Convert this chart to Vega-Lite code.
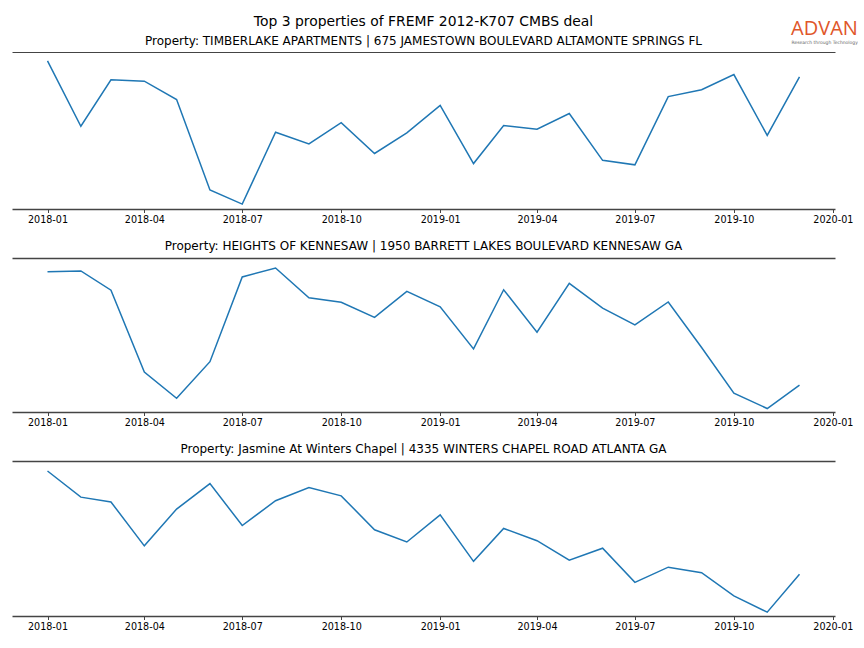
{
  "$schema": "https://vega.github.io/schema/vega-lite/v6.json",
  "padding": {"left": 12, "top": 15, "right": 0, "bottom": 0},
  "background": "white",
  "title": {
    "text": "ADVAN",
    "subtitle": "Research through Technology",
    "anchor": "end",
    "orient": "top",
    "offset": -29,
    "dx": 5,
    "font": "Open Sans",
    "fontSize": 20,
    "fontWeight": "normal",
    "color": "#e0562a",
    "subtitleFont": "DejaVu Sans",
    "subtitleFontSize": 4.5,
    "subtitleColor": "#666666",
    "subtitlePadding": 1
  },
  "config": {
    "view": {"stroke": null},
    "font": "DejaVu Sans",
    "axis": {
      "grid": false,
      "domainColor": "#444444",
      "domainWidth": 1.5,
      "tickColor": "#444444",
      "tickSize": 3.5,
      "tickWidth": 1,
      "labelFont": "DejaVu Sans",
      "labelFontSize": 9.6,
      "labelColor": "#000000",
      "labelPadding": 2,
      "title": null
    },
    "title": {
      "font": "DejaVu Sans",
      "fontSize": 12,
      "fontWeight": "normal",
      "color": "#000000",
      "anchor": "middle",
      "offset": 5
    },
    "concat": {"spacing": 15}
  },
  "data": {
    "values": [
      {"panel": 1, "date": "2018-01-01", "value": 151.0},
      {"panel": 1, "date": "2018-02-01", "value": 84.3},
      {"panel": 1, "date": "2018-03-01", "value": 131.6},
      {"panel": 1, "date": "2018-04-01", "value": 130.3},
      {"panel": 1, "date": "2018-05-01", "value": 111.6},
      {"panel": 1, "date": "2018-06-01", "value": 19.3},
      {"panel": 1, "date": "2018-07-01", "value": 5.0},
      {"panel": 1, "date": "2018-08-01", "value": 78.3},
      {"panel": 1, "date": "2018-09-01", "value": 66.3},
      {"panel": 1, "date": "2018-10-01", "value": 88.0},
      {"panel": 1, "date": "2018-11-01", "value": 56.6},
      {"panel": 1, "date": "2018-12-01", "value": 77.6},
      {"panel": 1, "date": "2019-01-01", "value": 105.6},
      {"panel": 1, "date": "2019-02-01", "value": 46.3},
      {"panel": 1, "date": "2019-03-01", "value": 85.0},
      {"panel": 1, "date": "2019-04-01", "value": 81.3},
      {"panel": 1, "date": "2019-05-01", "value": 97.3},
      {"panel": 1, "date": "2019-06-01", "value": 49.6},
      {"panel": 1, "date": "2019-07-01", "value": 45.0},
      {"panel": 1, "date": "2019-08-01", "value": 114.6},
      {"panel": 1, "date": "2019-09-01", "value": 121.6},
      {"panel": 1, "date": "2019-10-01", "value": 137.0},
      {"panel": 1, "date": "2019-11-01", "value": 75.0},
      {"panel": 1, "date": "2019-12-01", "value": 134.6},
      {"panel": 2, "date": "2018-01-01", "value": 145.6},
      {"panel": 2, "date": "2018-02-01", "value": 146.6},
      {"panel": 2, "date": "2018-03-01", "value": 126.6},
      {"panel": 2, "date": "2018-04-01", "value": 41.6},
      {"panel": 2, "date": "2018-05-01", "value": 14.3},
      {"panel": 2, "date": "2018-06-01", "value": 52.3},
      {"panel": 2, "date": "2018-07-01", "value": 140.3},
      {"panel": 2, "date": "2018-08-01", "value": 149.6},
      {"panel": 2, "date": "2018-09-01", "value": 118.6},
      {"panel": 2, "date": "2018-10-01", "value": 114.0},
      {"panel": 2, "date": "2018-11-01", "value": 98.3},
      {"panel": 2, "date": "2018-12-01", "value": 125.3},
      {"panel": 2, "date": "2019-01-01", "value": 109.3},
      {"panel": 2, "date": "2019-02-01", "value": 65.6},
      {"panel": 2, "date": "2019-03-01", "value": 127.0},
      {"panel": 2, "date": "2019-04-01", "value": 83.0},
      {"panel": 2, "date": "2019-05-01", "value": 133.6},
      {"panel": 2, "date": "2019-06-01", "value": 108.0},
      {"panel": 2, "date": "2019-07-01", "value": 90.6},
      {"panel": 2, "date": "2019-08-01", "value": 114.3},
      {"panel": 2, "date": "2019-09-01", "value": 67.0},
      {"panel": 2, "date": "2019-10-01", "value": 19.6},
      {"panel": 2, "date": "2019-11-01", "value": 3.6},
      {"panel": 2, "date": "2019-12-01", "value": 28.0},
      {"panel": 3, "date": "2018-01-01", "value": 149.7},
      {"panel": 3, "date": "2018-02-01", "value": 122.7},
      {"panel": 3, "date": "2018-03-01", "value": 117.7},
      {"panel": 3, "date": "2018-04-01", "value": 72.4},
      {"panel": 3, "date": "2018-05-01", "value": 110.4},
      {"panel": 3, "date": "2018-06-01", "value": 136.7},
      {"panel": 3, "date": "2018-07-01", "value": 93.4},
      {"panel": 3, "date": "2018-08-01", "value": 119.0},
      {"panel": 3, "date": "2018-09-01", "value": 132.7},
      {"panel": 3, "date": "2018-10-01", "value": 124.0},
      {"panel": 3, "date": "2018-11-01", "value": 89.0},
      {"panel": 3, "date": "2018-12-01", "value": 76.4},
      {"panel": 3, "date": "2019-01-01", "value": 104.4},
      {"panel": 3, "date": "2019-02-01", "value": 56.4},
      {"panel": 3, "date": "2019-03-01", "value": 90.4},
      {"panel": 3, "date": "2019-04-01", "value": 77.7},
      {"panel": 3, "date": "2019-05-01", "value": 57.7},
      {"panel": 3, "date": "2019-06-01", "value": 70.0},
      {"panel": 3, "date": "2019-07-01", "value": 34.7},
      {"panel": 3, "date": "2019-08-01", "value": 50.4},
      {"panel": 3, "date": "2019-09-01", "value": 44.7},
      {"panel": 3, "date": "2019-10-01", "value": 20.7},
      {"panel": 3, "date": "2019-11-01", "value": 4.0},
      {"panel": 3, "date": "2019-12-01", "value": 43.0}
    ]
  },
  "vconcat": [
    {
      "width": 823,
      "height": 157,
      "title": {
        "text": "Top 3 properties of FREMF 2012-K707 CMBS deal",
        "subtitle": "Property: TIMBERLAKE APARTMENTS | 675 JAMESTOWN BOULEVARD ALTAMONTE SPRINGS FL",
        "fontSize": 13.9,
        "subtitleFont": "DejaVu Sans",
        "subtitleFontSize": 12,
        "subtitleColor": "#000000",
        "subtitlePadding": 7
      },
      "transform": [{"filter": "datum.panel == 1"}],
      "layer": [
        {
          "mark": {"type": "line", "color": "#1f77b4", "strokeWidth": 1.5},
          "encoding": {
            "x": {"field": "date", "type": "temporal",
              "scale": {"type": "utc", "domain": [{"year": 2017, "month": 11, "date": 29, "utc": true}, {"year": 2020, "month": 1, "date": 3, "utc": true}]},
              "axis": {"orient": "bottom", "labelExpr": "utcFormat(datum.value, '%Y-%m')",
                "values": [{"year": 2018, "month": 1, "date": 1, "utc": true}, {"year": 2018, "month": 4, "date": 1, "utc": true}, {"year": 2018, "month": 7, "date": 1, "utc": true}, {"year": 2018, "month": 10, "date": 1, "utc": true}, {"year": 2019, "month": 1, "date": 1, "utc": true}, {"year": 2019, "month": 4, "date": 1, "utc": true}, {"year": 2019, "month": 7, "date": 1, "utc": true}, {"year": 2019, "month": 10, "date": 1, "utc": true}, {"year": 2020, "month": 1, "date": 1, "utc": true}]}},
            "y": {"field": "value", "type": "quantitative", "scale": {"domain": [0, 157]}, "axis": null}
          }
        },
        {
          "mark": {"type": "line", "opacity": 0},
          "encoding": {
            "x": {"field": "date", "type": "temporal", "axis": {"orient": "top", "labels": false, "ticks": false, "domainWidth": 1}},
            "y": {"field": "value", "type": "quantitative", "axis": null}
          }
        }
      ],
      "resolve": {"axis": {"x": "independent"}}
    },
    {
      "width": 823,
      "height": 154,
      "title": {"text": "Property: HEIGHTS OF KENNESAW | 1950 BARRETT LAKES BOULEVARD KENNESAW GA"},
      "transform": [{"filter": "datum.panel == 2"}],
      "layer": [
        {
          "mark": {"type": "line", "color": "#1f77b4", "strokeWidth": 1.5},
          "encoding": {
            "x": {"field": "date", "type": "temporal",
              "scale": {"type": "utc", "domain": [{"year": 2017, "month": 11, "date": 29, "utc": true}, {"year": 2020, "month": 1, "date": 3, "utc": true}]},
              "axis": {"orient": "bottom", "labelExpr": "utcFormat(datum.value, '%Y-%m')",
                "values": [{"year": 2018, "month": 1, "date": 1, "utc": true}, {"year": 2018, "month": 4, "date": 1, "utc": true}, {"year": 2018, "month": 7, "date": 1, "utc": true}, {"year": 2018, "month": 10, "date": 1, "utc": true}, {"year": 2019, "month": 1, "date": 1, "utc": true}, {"year": 2019, "month": 4, "date": 1, "utc": true}, {"year": 2019, "month": 7, "date": 1, "utc": true}, {"year": 2019, "month": 10, "date": 1, "utc": true}, {"year": 2020, "month": 1, "date": 1, "utc": true}]}},
            "y": {"field": "value", "type": "quantitative", "scale": {"domain": [0, 154]}, "axis": null}
          }
        },
        {
          "mark": {"type": "line", "opacity": 0},
          "encoding": {
            "x": {"field": "date", "type": "temporal", "axis": {"orient": "top", "labels": false, "ticks": false}},
            "y": {"field": "value", "type": "quantitative", "axis": null}
          }
        }
      ],
      "resolve": {"axis": {"x": "independent"}}
    },
    {
      "width": 823,
      "height": 155,
      "title": {"text": "Property: Jasmine At Winters Chapel | 4335 WINTERS CHAPEL ROAD ATLANTA GA"},
      "transform": [{"filter": "datum.panel == 3"}],
      "layer": [
        {
          "mark": {"type": "line", "color": "#1f77b4", "strokeWidth": 1.5},
          "encoding": {
            "x": {"field": "date", "type": "temporal",
              "scale": {"type": "utc", "domain": [{"year": 2017, "month": 11, "date": 29, "utc": true}, {"year": 2020, "month": 1, "date": 3, "utc": true}]},
              "axis": {"orient": "bottom", "labelExpr": "utcFormat(datum.value, '%Y-%m')",
                "values": [{"year": 2018, "month": 1, "date": 1, "utc": true}, {"year": 2018, "month": 4, "date": 1, "utc": true}, {"year": 2018, "month": 7, "date": 1, "utc": true}, {"year": 2018, "month": 10, "date": 1, "utc": true}, {"year": 2019, "month": 1, "date": 1, "utc": true}, {"year": 2019, "month": 4, "date": 1, "utc": true}, {"year": 2019, "month": 7, "date": 1, "utc": true}, {"year": 2019, "month": 10, "date": 1, "utc": true}, {"year": 2020, "month": 1, "date": 1, "utc": true}]}},
            "y": {"field": "value", "type": "quantitative", "scale": {"domain": [0, 155]}, "axis": null}
          }
        },
        {
          "mark": {"type": "line", "opacity": 0},
          "encoding": {
            "x": {"field": "date", "type": "temporal", "axis": {"orient": "top", "labels": false, "ticks": false}},
            "y": {"field": "value", "type": "quantitative", "axis": null}
          }
        }
      ],
      "resolve": {"axis": {"x": "independent"}}
    }
  ]
}
